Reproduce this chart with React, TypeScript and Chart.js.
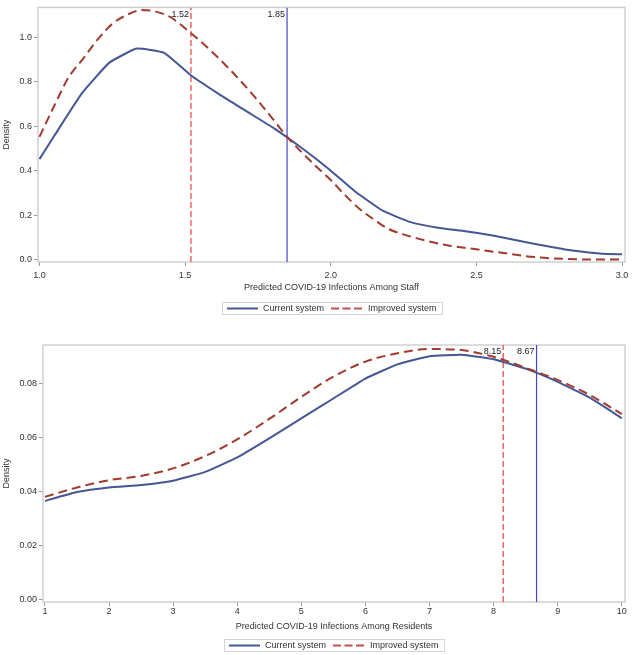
import React, { useEffect, useRef } from 'react';
import { Chart, registerables } from 'chart.js';

Chart.register(...registerables);

const FONT = '"Liberation Sans", Arial, sans-serif';
const FS = 9;
const TEXT = '#333333';
const BLUE = '#445694';
const RED = '#A23A2E';
const REF_RED = '#EE5A5A';
const REF_BLUE = '#4646CC';

// ---- Top chart: staff ----
const staffCurrentX = [1.0, 1.052, 1.146, 1.24, 1.334, 1.428, 1.522, 1.616, 1.71, 1.804, 1.898, 1.992, 2.086, 2.18, 2.274, 2.368, 2.462, 2.556, 2.65, 2.744, 2.838, 2.932, 3.0];
const staffCurrentY = [0.453, 0.56, 0.749, 0.886, 0.949, 0.93, 0.827, 0.745, 0.668, 0.592, 0.505, 0.41, 0.305, 0.22, 0.17, 0.145, 0.129, 0.11, 0.085, 0.062, 0.041, 0.028, 0.026];
const staffImprovedX = [1.0, 1.05, 1.1, 1.15, 1.2, 1.25, 1.3, 1.35, 1.4, 1.45, 1.5, 1.55, 1.6, 1.65, 1.7, 1.75, 1.8, 1.85, 1.9, 1.95, 2.0, 2.05, 2.1, 2.15, 2.2, 2.25, 2.3, 2.4, 2.5, 2.6, 2.7, 2.8, 2.9, 3.0];
const staffImprovedY = [0.553, 0.69, 0.82, 0.904, 0.99, 1.06, 1.1, 1.122, 1.115, 1.09, 1.04, 0.985, 0.925, 0.86, 0.79, 0.715, 0.635, 0.553, 0.484, 0.42, 0.359, 0.29, 0.228, 0.18, 0.138, 0.115, 0.096, 0.066, 0.048, 0.03, 0.013, 0.005, 0.002, 0.002];
const staffRefImproved = 1.52;
const staffRefCurrent = 1.85;
const staffXTicks = [1.0, 1.5, 2.0, 2.5, 3.0];
const staffYTicks = [0, 0.2, 0.4, 0.6, 0.8, 1.0];
const staffXTitle = 'Predicted COVID-19 Infections Among Staff';

// ---- Bottom chart: residents ----
const residentX = [1, 1.5, 2, 2.5, 3, 3.5, 4, 4.5, 5, 5.5, 6, 6.5, 7, 7.5, 8, 8.5, 9, 9.5, 10];
const residentCurrentY = [0.0365, 0.0398, 0.0415, 0.0424, 0.044, 0.0473, 0.0527, 0.0598, 0.0672, 0.0746, 0.082, 0.0873, 0.0903, 0.0909, 0.0892, 0.0857, 0.0808, 0.0749, 0.0673];
const residentImprovedY = [0.038, 0.0415, 0.0442, 0.0458, 0.0486, 0.0532, 0.0594, 0.067, 0.0752, 0.0827, 0.0883, 0.0914, 0.093, 0.0926, 0.0901, 0.086, 0.0815, 0.0759, 0.0688];
const residentRefImproved = 8.15;
const residentRefCurrent = 8.67;
const residentXTicks = [1, 2, 3, 4, 5, 6, 7, 8, 9, 10];
const residentYTicks = [0, 0.02, 0.04, 0.06, 0.08];
const residentXTitle = 'Predicted COVID-19 Infections Among Residents';

const legendLabels = ['Current system', 'Improved system'];
const yTitle = 'Density';

type PanelProps = {
  top: number;
  height: number;
  curX: number[];
  curY: number[];
  impX: number[];
  impY: number[];
  refImp: number;
  refCur: number;
  xTicks: number[];
  yTicks: number[];
  xMin: number;
  xMax: number;
  yMin: number;
  yMax: number;
  xDec: number;
  yDec: number;
  xTitle: string;
  padTop: number;
  padBottom: number;
  yWidth: number;
  xHeight: number;
  xTickPad: number;
  legendGap: number;
};

function Panel(p: PanelProps) {
  const ref = useRef<HTMLCanvasElement | null>(null);
  useEffect(() => {
    const canvas = ref.current;
    if (!canvas) return;
    const font = { family: FONT, size: FS };

    const framePlugin = {
      id: 'frame',
      beforeDatasetsDraw(chart: any) {
        const { ctx, chartArea: a } = chart;
        ctx.save();
        ctx.strokeStyle = '#cfcfcf';
        ctx.lineWidth = 1.5;
        ctx.strokeRect(a.left, a.top, a.right - a.left, a.bottom - a.top);
        ctx.restore();
      },
    };

    const labelPlugin = {
      id: 'reflabels',
      afterDatasetsDraw(chart: any) {
        const { ctx, chartArea: a } = chart;
        const xs = chart.scales.x;
        ctx.save();
        ctx.font = `${FS}px ${FONT}`;
        ctx.fillStyle = '#222';
        ctx.textAlign = 'right';
        ctx.textBaseline = 'middle';
        [p.refImp, p.refCur].forEach((v) => {
          const px = xs.getPixelForValue(v);
          ctx.fillText(v.toFixed(2), px - 2, a.top + 7);
        });
        ctx.restore();
      },
    };

    const legendPlugin = {
      id: 'customLegend',
      afterDraw(chart: any) {
        const { ctx, chartArea: a } = chart;
        const xs = chart.scales.x;
        ctx.save();
        ctx.font = `${FS}px ${FONT}`;
        const w0 = ctx.measureText(legendLabels[0]).width;
        const w1 = ctx.measureText(legendLabels[1]).width;
        const sample = 31;
        const totalW = 5 + sample + 5 + w0 + 7 + sample + 6 + w1 + 5;
        const boxTop = xs.bottom + p.legendGap;
        const boxH = 12;
        const left = Math.round((a.left + a.right) / 2 - totalW / 2);
        ctx.strokeStyle = '#d4d4d4';
        ctx.lineWidth = 1;
        ctx.strokeRect(left + 0.5, boxTop + 0.5, Math.round(totalW), boxH);
        const cy = boxTop + boxH / 2 + 0.5;
        let x = left + 5;
        ctx.strokeStyle = BLUE;
        ctx.lineWidth = 2;
        ctx.setLineDash([]);
        ctx.beginPath();
        ctx.moveTo(x, cy);
        ctx.lineTo(x + sample, cy);
        ctx.stroke();
        x += sample + 5;
        ctx.fillStyle = TEXT;
        ctx.textBaseline = 'middle';
        ctx.textAlign = 'left';
        ctx.fillText(legendLabels[0], x, cy);
        x += w0 + 7;
        ctx.strokeStyle = '#C0504D';
        ctx.setLineDash([8, 3.5]);
        ctx.beginPath();
        ctx.moveTo(x, cy);
        ctx.lineTo(x + sample, cy);
        ctx.stroke();
        ctx.setLineDash([]);
        x += sample + 6;
        ctx.fillText(legendLabels[1], x, cy);
        ctx.restore();
      },
    };

    const chart = new Chart(canvas, {
      type: 'line',
      data: {
        datasets: [
          {
            label: legendLabels[1],
            data: p.impX.map((x, i) => ({ x, y: p.impY[i] })),
            borderColor: RED,
            borderWidth: 2,
            borderDash: [9, 5],
            pointRadius: 0,
            cubicInterpolationMode: 'monotone',
            fill: false,
            order: 0,
          },
          {
            label: legendLabels[0],
            data: p.curX.map((x, i) => ({ x, y: p.curY[i] })),
            borderColor: BLUE,
            borderWidth: 2,
            pointRadius: 0,
            tension: 0.12,
            fill: false,
            order: 1,
          },
          {
            label: 'ref-improved',
            data: [
              { x: p.refImp, y: p.yMin },
              { x: p.refImp, y: p.yMax },
            ],
            borderColor: REF_RED,
            borderWidth: 1.4,
            borderDash: [6, 3],
            pointRadius: 0,
            fill: false,
            order: 2,
          },
          {
            label: 'ref-current',
            data: [
              { x: p.refCur, y: p.yMin },
              { x: p.refCur, y: p.yMax },
            ],
            borderColor: REF_BLUE,
            borderWidth: 1.2,
            pointRadius: 0,
            fill: false,
            order: 3,
          },
        ],
      },
      options: {
        responsive: false,
        animation: false,
        layout: { padding: { top: p.padTop, right: 9, bottom: p.padBottom, left: 0 } },
        plugins: { legend: { display: false }, tooltip: { enabled: false } },
        scales: {
          x: {
            type: 'linear',
            min: p.xMin,
            max: p.xMax,
            afterFit: (s: any) => {
              s.height = p.xHeight;
            },
            afterBuildTicks: (s: any) => {
              s.ticks = p.xTicks.map((v) => ({ value: v }));
            },
            ticks: {
              font,
              color: TEXT,
              padding: p.xTickPad,
              maxRotation: 0,
              autoSkip: false,
              callback: (v: any) => Number(v).toFixed(p.xDec),
            },
            grid: { drawOnChartArea: false, drawTicks: true, tickLength: 4, color: '#999' },
            border: { display: false },
            title: { display: true, text: p.xTitle, font, color: TEXT, padding: 0 },
          },
          y: {
            type: 'linear',
            min: p.yMin,
            max: p.yMax,
            afterFit: (s: any) => {
              s.width = p.yWidth;
            },
            afterBuildTicks: (s: any) => {
              s.ticks = p.yTicks.map((v) => ({ value: v }));
            },
            ticks: {
              font,
              color: TEXT,
              padding: 2,
              autoSkip: false,
              callback: (v: any) => Number(v).toFixed(p.yDec),
            },
            grid: { drawOnChartArea: false, drawTicks: true, tickLength: 4, color: '#999' },
            border: { display: false },
            title: { display: true, text: yTitle, font, color: TEXT, padding: { top: 1.5, bottom: 0 } },
          },
        },
      },
      plugins: [framePlugin, labelPlugin, legendPlugin],
    } as any);
    return () => chart.destroy();
  }, []);
  return (
    <canvas
      ref={ref}
      width={634}
      height={p.height}
      style={{ position: 'absolute', left: 0, top: p.top, width: 634, height: p.height, display: 'block' }}
    />
  );
}

export default function App() {
  return (
    <div style={{ position: 'absolute', left: 0, top: 0, width: 634, height: 655, background: '#fff' }}>
      <Panel
        top={0}
        height={330}
        curX={staffCurrentX}
        curY={staffCurrentY}
        impX={staffImprovedX}
        impY={staffImprovedY}
        refImp={staffRefImproved}
        refCur={staffRefCurrent}
        xTicks={staffXTicks}
        yTicks={staffYTicks}
        xMin={0.995}
        xMax={3.01}
        yMin={-0.009}
        yMax={1.134}
        xDec={1}
        yDec={1}
        xTitle={staffXTitle}
        padTop={7}
        padBottom={37}
        yWidth={38}
        xHeight={31}
        xTickPad={4}
        legendGap={9}
      />
      <Panel
        top={330}
        height={325}
        curX={residentX}
        curY={residentCurrentY}
        impX={residentX}
        impY={residentImprovedY}
        refImp={residentRefImproved}
        refCur={residentRefCurrent}
        xTicks={residentXTicks}
        yTicks={residentYTicks}
        xMin={0.97}
        xMax={10.05}
        yMin={-0.0011}
        yMax={0.0945}
        xDec={0}
        yDec={2}
        xTitle={residentXTitle}
        padTop={15}
        padBottom={23}
        yWidth={43}
        xHeight={30}
        xTickPad={0}
        legendGap={7}
      />
    </div>
  );
}
